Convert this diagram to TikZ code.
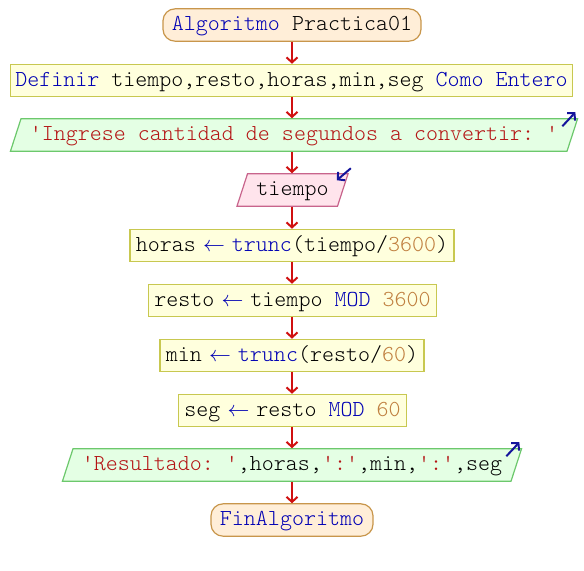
\documentclass[tikz,border=0pt]{standalone}
\usepackage{fontspec}
\setmonofont{Latin Modern Mono Light}
\usetikzlibrary{shapes.geometric,arrows.meta}

\definecolor{termfill}{HTML}{FFEED8}
\definecolor{termdraw}{HTML}{C8964B}
\definecolor{procfill}{HTML}{FFFFDD}
\definecolor{procdraw}{HTML}{C8C850}
\definecolor{outfill}{HTML}{E4FFE4}
\definecolor{outdraw}{HTML}{6CC86C}
\definecolor{infill}{HTML}{FFE4EC}
\definecolor{indraw}{HTML}{C8648C}
\definecolor{kwblue}{HTML}{0000B4}
\definecolor{strred}{HTML}{B41414}
\definecolor{numbrown}{HTML}{C08040}
\definecolor{flowred}{HTML}{D01010}
\definecolor{markblue}{HTML}{14149B}

\newcommand{\kw}[1]{\textcolor{kwblue}{#1}}
\newcommand{\txt}[1]{\textcolor{strred}{#1}}
\newcommand{\nm}[1]{\textcolor{numbrown}{#1}}
\newcommand{\sq}{\textquotesingle}
\newcommand{\getsarrow}{\kw{\makebox[6pt]{$\leftarrow$}}}

\begin{document}
\begin{tikzpicture}[x=0.5pt, y=-0.5pt, >={Straight Barb[length=2.5pt,width=5.5pt]},
	every node/.style={font=\ttfamily\fontsize{11.43}{13}\selectfont, text height=7.5pt, text depth=2pt},
	terminal/.style={draw=termdraw, fill=termfill, rounded corners=6pt, inner xsep=4.5pt, minimum height=14pt, line width=0.6pt},
	proc/.style={draw=procdraw, fill=procfill, inner xsep=3pt, minimum height=14.5pt, line width=0.6pt},
	outbox/.style={trapezium, trapezium left angle=72, trapezium right angle=108, trapezium stretches body, draw=outdraw, fill=outfill, inner xsep=4.5pt, minimum height=15pt, line width=0.6pt},
	inbox/.style={trapezium, trapezium left angle=72, trapezium right angle=108, trapezium stretches body, draw=indraw, fill=infill, inner xsep=4.5pt, minimum height=15pt, line width=0.6pt},
	flow/.style={->, draw=flowred, line width=1pt},
	iomark/.style={->, draw=markblue, line width=1pt}]
	\useasboundingbox (0, 0) rectangle (584, 570);

	% nodes, top to bottom
	\node[terminal] (start) at (292, 25) {\kw{Algoritmo} Practica01};
	\node[proc, inner xsep=2.5pt] (def) at (291.5, 80.5) {\kw{Definir} tiempo,resto,horas,min,seg \kw{Como Entero}};
	\node[outbox] (ask) at (294, 135) {\txt{\sq Ingrese cantidad de segundos a convertir: \sq}};
	\node[inbox] (read) at (292.5, 190) {tiempo};
	\node[proc] (hrs) at (292, 245.5) {horas \getsarrow{} \kw{trunc}(tiempo/\nm{3600})};
	\node[proc] (rest) at (292.5, 300.5) {resto \getsarrow{} tiempo \kw{MOD} \nm{3600}};
	\node[proc] (mins) at (292, 355.5) {min \getsarrow{} \kw{trunc}(resto/\nm{60})};
	\node[proc] (secs) at (292.5, 410.5) {seg \getsarrow{} resto \kw{MOD} \nm{60}};
	\node[outbox] (show) at (292, 465) {\txt{\sq Resultado: \sq},horas,\txt{\sq:\sq},min,\txt{\sq:\sq},seg};
	\node[terminal] (stop) at (292, 520) {\kw{FinAlgoritmo}};

	% flow
	\foreach \a/\b in {start/def, def/ask, ask/read, read/hrs, hrs/rest, rest/mins, mins/secs, secs/show, show/stop}
		\draw[flow] (start.south |- \a.south) -- (start.south |- \b.north);

	% input / output marks
	\draw[iomark] ([shift={(-8pt,-4pt)}]ask.top right corner) -- ([shift={(-1.5pt,3pt)}]ask.top right corner);
	\draw[iomark] ([shift={(-8pt,-4pt)}]show.top right corner) -- ([shift={(-1.5pt,3pt)}]show.top right corner);
	\draw[iomark] ([shift={(1pt,2.5pt)}]read.top right corner) -- ([shift={(-6pt,-3.5pt)}]read.top right corner);
\end{tikzpicture}
\end{document}
